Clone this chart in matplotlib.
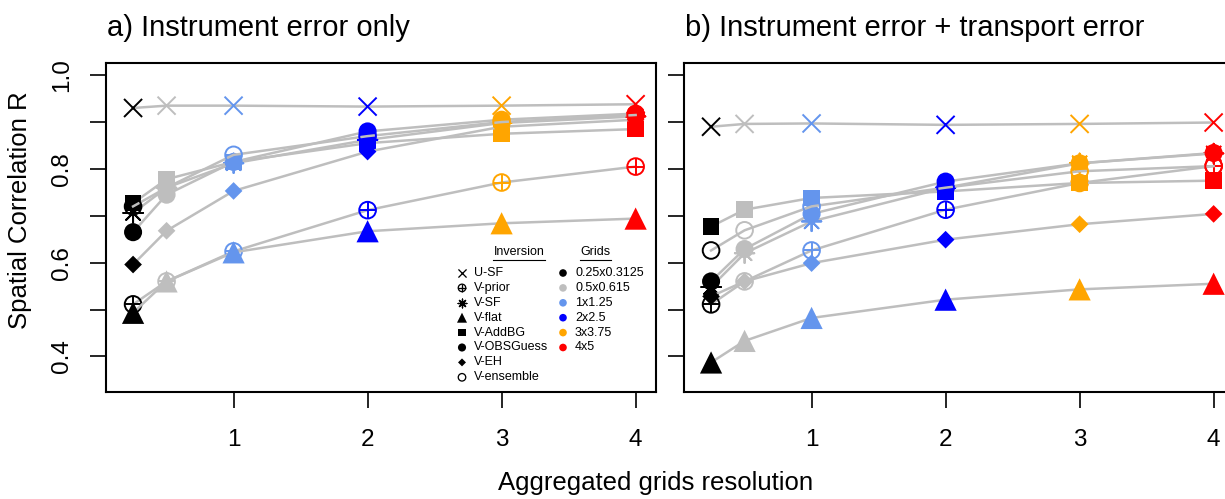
import numpy as np
import matplotlib
matplotlib.use("Agg")
import matplotlib.pyplot as plt

plt.rcParams['font.family'] = ['Liberation Sans', 'DejaVu Sans']

# resolution (x) and grid names
x = [0.25, 0.5, 1, 2, 3, 4]
grids = ["0.25x0.3125", "0.5x0.615", "1x1.25", "2x2.5", "3x3.75", "4x5"]
grid_cols = ["#000000", "#BEBEBE", "#6495ED", "#0000FF", "#FFA500", "#FF0000"]

inversions = ["U-SF", "V-prior", "V-SF", "V-flat", "V-AddBG", "V-OBSGuess", "V-EH", "V-ensemble"]

# a) instrument error only
a_usf = [0.930, 0.935, 0.935, 0.933, 0.935, 0.938]
a_prior = [0.511, 0.560, 0.624, 0.712, 0.771, 0.805]
a_sf = [0.706, 0.760, 0.812, 0.862, 0.898, 0.912]
a_flat = [0.493, 0.560, 0.622, 0.667, 0.684, 0.694]
a_addbg = [0.727, 0.778, 0.815, 0.855, 0.875, 0.885]
a_obs = [0.665, 0.745, 0.815, 0.880, 0.905, 0.918]
a_eh = [0.596, 0.668, 0.753, 0.837, 0.890, 0.905]
a_ens = [0.720, 0.760, 0.830, 0.870, 0.900, 0.915]

# b) instrument error + transport error
b_usf = [0.890, 0.896, 0.897, 0.894, 0.896, 0.899]
b_prior = [0.511, 0.560, 0.626, 0.713, 0.770, 0.806]
b_sf = [0.548, 0.620, 0.688, 0.760, 0.812, 0.833]
b_flat = [0.387, 0.433, 0.482, 0.521, 0.543, 0.555]
b_addbg = [0.677, 0.713, 0.738, 0.752, 0.770, 0.775]
b_obs = [0.560, 0.629, 0.704, 0.773, 0.812, 0.834]
b_eh = [0.528, 0.560, 0.599, 0.649, 0.682, 0.704]
b_ens = [0.626, 0.669, 0.720, 0.760, 0.795, 0.806]

panel_a = [a_usf, a_prior, a_sf, a_flat, a_addbg, a_obs, a_eh, a_ens]
panel_b = [b_usf, b_prior, b_sf, b_flat, b_addbg, b_obs, b_eh, b_ens]

# marker style for each inversion: list of (marker, size, filled)
styles = [
    [("x", 13, True)],
    [("o", 12, False), ("+", 12, True)],
    [((8, 2, 0), 14, True)],
    [("^", 16, True)],
    [("s", 12, True)],
    [("o", 13, True)],
    [("D", 9, True)],
    [("o", 12, False)],
]
LINE = "#BEBEBE"


def draw_marker(ax, xs, ys, cols, style, scale=1.0, z=3, **kw):
    for m, ms, filled in style:
        ms = ms * scale
        if filled and m not in ("x", "+") and not isinstance(m, tuple):
            ax.scatter(xs, ys, s=ms ** 2, marker=m, c=cols, edgecolors="none", zorder=z, **kw)
        elif filled:
            ax.scatter(xs, ys, s=ms ** 2, marker=m, c=cols, linewidths=1.4 * scale ** 0.5, zorder=z, **kw)
        else:
            ax.scatter(xs, ys, s=ms ** 2, marker=m, facecolors="none", edgecolors=cols,
                       linewidths=1.4 * scale ** 0.5, zorder=z, **kw)


def panel(ax, data, ticklabels=True):
    for i, (ys, st) in enumerate(zip(data, styles)):
        ax.plot(x, ys, color=LINE, lw=1.8, zorder=2 + 2 * i)
        draw_marker(ax, x, ys, grid_cols, st, z=3 + 2 * i)
    ax.set_xlim(0.048, 4.152)
    ax.set_ylim(0.324, 1.026)
    ax.set_xticks([1, 2, 3, 4])
    ax.set_yticks(np.round(np.arange(0.4, 1.01, 0.1), 1))
    if ticklabels:
        ax.set_yticklabels(["0.4", "", "0.6", "", "0.8", "", "1.0"], rotation=90, va="center")
    else:
        ax.set_yticklabels([])
    ax.tick_params(direction="out", length=11.5, width=1.2, labelsize=17.5, pad=12)
    ax.tick_params(axis="x", pad=15)
    for s in ax.spines.values():
        s.set_linewidth(1.5)


fig = plt.figure(figsize=(12.25, 4.99), dpi=100)
ax1 = fig.add_axes([106 / 1225, 107 / 499, 550 / 1225, 329 / 499])
ax2 = fig.add_axes([684 / 1225, 107 / 499, 550 / 1225, 329 / 499])
panel(ax1, panel_a)
panel(ax2, panel_b, ticklabels=False)

fig.text(107 / 1225, 1 - 36 / 499, "a) Instrument error only", fontsize=21, va="baseline")
fig.text(685 / 1225, 1 - 36 / 499, "b) Instrument error + transport error", fontsize=21, va="baseline")
fig.text(656 / 1225, 1 - 483 / 499, "Aggregated grids resolution", fontsize=18.5, ha="center", va="center")
fig.text(20 / 1225, 1 - 210 / 499, "Spatial Correlation R", fontsize=18.5, rotation=90,
         ha="center", va="center")

# legend (drawn by hand, two columns with underlined headers)
def ay(py):
    return (392 - py) / 329


def axx(px):
    return (px - 106) / 550


tr = ax1.transAxes
for cx, head, w in [(519, "Inversion", 52), (595, "Grids", 31)]:
    ax1.text(axx(cx), ay(252), head, fontsize=9, ha="center", va="center", transform=tr)
    ax1.plot([axx(cx - w / 2), axx(cx + w / 2)], [ay(260), ay(260)], color="black", lw=0.8,
             transform=tr, clip_on=False)

for i, (name, st) in enumerate(zip(inversions, styles)):
    py = 273 + 14.9 * i
    draw_marker(ax1, [axx(462)], [ay(py)], ["black"], st, scale=0.45, z=20, transform=tr)
    ax1.text(axx(474), ay(py), name, fontsize=9, va="center", transform=tr)

for i, (name, c) in enumerate(zip(grids, grid_cols)):
    py = 273 + 14.9 * i
    ax1.scatter([axx(563)], [ay(py)], s=30, c=[c], marker="o", edgecolors="none", zorder=20, transform=tr)
    ax1.text(axx(575), ay(py), name, fontsize=9, va="center", transform=tr)

fig.savefig("out.png", dpi=100)
